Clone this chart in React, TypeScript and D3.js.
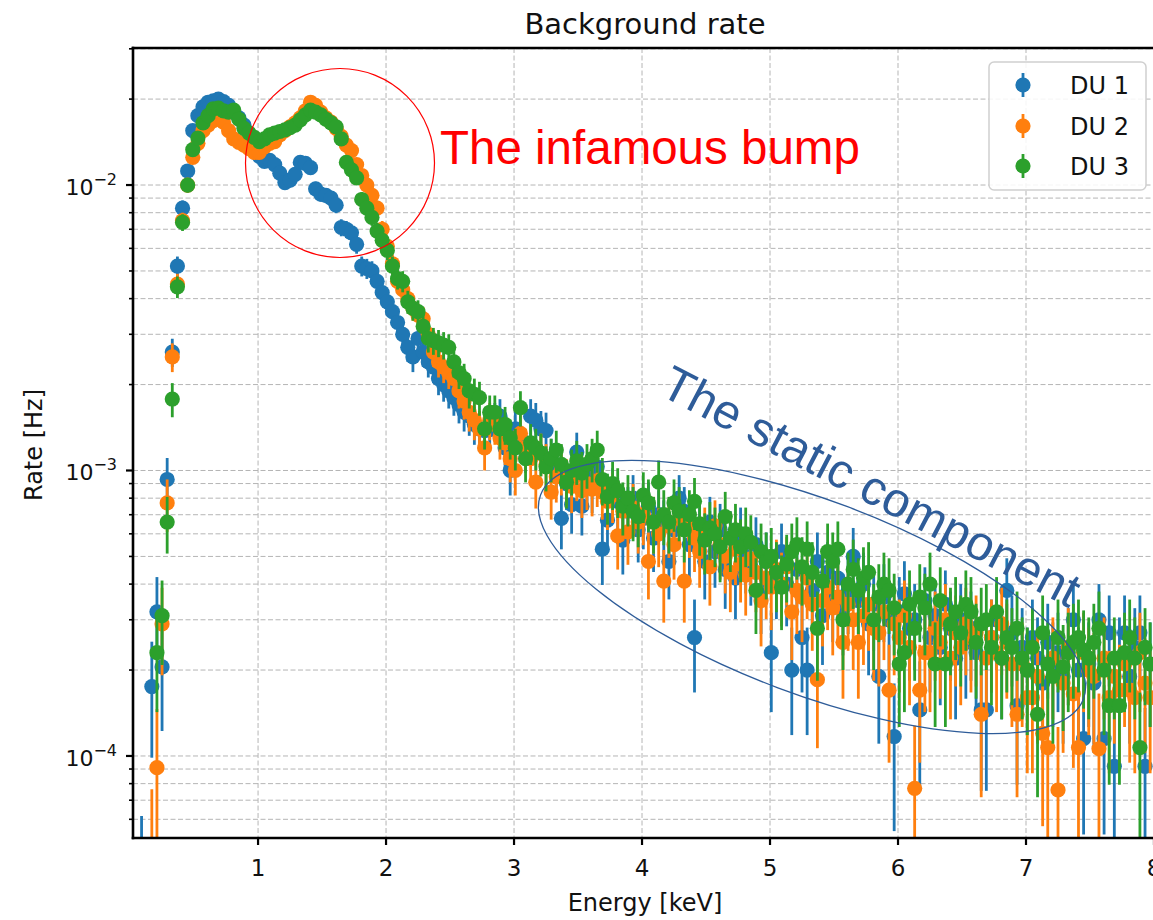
import React from 'react';
import * as d3 from 'd3';

const TITLE = 'Background rate';
const X_LABEL = 'Energy [keV]';
const Y_LABEL = 'Rate [Hz]';
const SERIES_NAMES = ['DU 1', 'DU 2', 'DU 3'];
const SERIES_COLORS = ['#1f77b4', '#ff7f0e', '#2ca02c'];
const X_TICKS = [1, 2, 3, 4, 5, 6, 7, 8];
const Y_MAJOR_TICKS = [1e-4, 1e-3, 1e-2];
const Y_TICK_EXPONENTS = ['\u22124', '\u22123', '\u22122'];
const BUMP_NOTE = 'The infamous bump';
const STATIC_NOTE = 'The static component';

// histogram bins: first bin centre and channel width (keV)
const FIRST_BIN_KEV = 0.09;
const BIN_WIDTH_KEV = 0.04;
// exposure used for the Poisson uncertainty of each rate
const EXPOSURE_S = 30000;

// rates [Hz], one row = 10 bins (0.4 keV)
const DU1_RATE = [
  3e-5, 5e-6, 1.75e-4, 3.2e-4, 2.05e-4, 9.3e-4, 2.6e-3, 5.2e-3, 8.3e-3, 1.12e-2,
  1.55e-2, 1.75e-2, 1.88e-2, 1.95e-2, 1.97e-2, 2.0e-2, 1.96e-2, 1.9e-2, 1.8e-2, 1.72e-2,
  1.62e-2, 1.5e-2, 1.36e-2, 1.26e-2, 1.21e-2, 1.22e-2, 1.18e-2, 1.1e-2, 1.02e-2, 1.04e-2,
  1.09e-2, 1.2e-2, 1.19e-2, 1.15e-2, 9.7e-3, 9.3e-3, 9.2e-3, 9.0e-3, 8.5e-3, 7.1e-3,
  7.0e-3, 6.8e-3, 6.2e-3, 5.2e-3, 5.1e-3, 5.0e-3, 4.6e-3, 4.2e-3, 3.9e-3, 3.6e-3,
  3.3e-3, 3.0e-3, 2.7e-3, 2.5e-3, 2.9e-3, 2.6e-3, 2.4e-3, 2.3e-3, 2.1e-3, 2.0e-3,
  1.9e-3, 1.8e-3, 1.7e-3, 1.6e-3, 1.55e-3, 1.45e-3, 1.4e-3, 1.38e-3, 1.39e-3, 1.5e-3,
  1.55e-3, 1.2e-3, 1.0e-3, 1.4e-3, 1.3e-3, 1.18e-3, 1.55e-3, 1.5e-3, 1.4e-3, 1.38e-3,
  1.1e-3, 1.0e-3, 6.8e-4, 9.0e-4, 7.6e-4, 1.16e-3, 7.5e-4, 9.5e-4, 8.8e-4, 1.03e-3,
  5.3e-4, 6.7e-4, 8.5e-4, 7.8e-4, 5.7e-4, 7.2e-4, 8.0e-4, 6.2e-4, 6.8e-4, 7.5e-4,
  5.8e-4, 7.0e-4, 6.4e-4, 4.8e-4, 6.2e-4, 8.0e-4, 7.2e-4, 5.5e-4, 2.6e-4, 6.0e-4,
  4.8e-4, 6.6e-4, 5.2e-4, 6.2e-4, 4.5e-4, 5.8e-4, 4.2e-4, 6.0e-4, 5.0e-4, 4.6e-4,
  5.5e-4, 3.8e-4, 4.8e-4, 2.3e-4, 4.2e-4, 5.2e-4, 4.0e-4, 2.0e-4, 4.5e-4, 2.6e-4,
  2.0e-4, 3.8e-4, 4.8e-4, 3.1e-4, 4.4e-4, 3.6e-4, 4.2e-4, 3.3e-4, 3.8e-4, 5.0e-4,
  3.5e-4, 4.0e-4, 2.9e-4, 3.4e-4, 1.9e-4, 3.6e-4, 3.0e-4, 1.17e-4, 3.2e-4, 3.7e-4,
  2.8e-4, 3.0e-4, 1.45e-4, 3.5e-4, 2.6e-4, 3.1e-4, 2.4e-4, 3.4e-4, 2.8e-4, 2.2e-4,
  3.0e-4, 2.5e-4, 2.8e-4, 2.3e-4, 1.45e-4, 1.45e-4, 2.6e-4, 3.0e-4, 2.2e-4, 3.8e-4,
  2.7e-4, 1.5e-4, 2.4e-4, 2.0e-4, 2.6e-4, 2.2e-4, 1.8e-4, 2.5e-4, 2.1e-4, 2.3e-4,
  1.9e-4, 2.4e-4, 3.0e-4, 2.0e-4, 1.15e-4, 2.1e-4, 1.8e-4, 3.0e-4, 1.15e-4, 2.7e-4,
  9.2e-5, 2.2e-4, 2.7e-4, 1.9e-4, 2.4e-4, 2.7e-4, 9.2e-5, 2.1e-4,
];

const DU2_RATE = [
  3e-6, 5e-6, 4e-5, 9.1e-5, 2.9e-4, 7.7e-4, 2.5e-3, 4.5e-3, 7.5e-3, 1.0e-2,
  1.25e-2, 1.4e-2, 1.55e-2, 1.62e-2, 1.68e-2, 1.7e-2, 1.66e-2, 1.55e-2, 1.45e-2, 1.41e-2,
  1.38e-2, 1.34e-2, 1.3e-2, 1.3e-2, 1.36e-2, 1.4e-2, 1.42e-2, 1.5e-2, 1.55e-2, 1.6e-2,
  1.65e-2, 1.72e-2, 1.82e-2, 1.95e-2, 1.9e-2, 1.8e-2, 1.72e-2, 1.66e-2, 1.58e-2, 1.48e-2,
  1.38e-2, 1.32e-2, 1.18e-2, 1.08e-2, 1.0e-2, 9.2e-3, 8.3e-3, 7.0e-3, 6.1e-3, 5.3e-3,
  4.6e-3, 4.3e-3, 4.0e-3, 3.7e-3, 3.5e-3, 3.4e-3, 3.0e-3, 2.6e-3, 2.4e-3, 2.3e-3,
  2.2e-3, 2.1e-3, 1.9e-3, 1.75e-3, 1.6e-3, 1.5e-3, 1.4e-3, 1.2e-3, 1.5e-3, 1.45e-3,
  1.3e-3, 1.25e-3, 1.1e-3, 1.0e-3, 1.35e-3, 1.2e-3, 1.1e-3, 9.1e-4, 1.15e-3, 1.05e-3,
  8.4e-4, 9.5e-4, 1.0e-3, 9.2e-4, 8.8e-4, 9.6e-4, 8.5e-4, 9.0e-4, 8.6e-4, 9.2e-4,
  8.4e-4, 7.8e-4, 8.2e-4, 5.9e-4, 7.2e-4, 6.1e-4, 7.4e-4, 6.6e-4, 7.0e-4, 4.8e-4,
  6.6e-4, 6.0e-4, 4.1e-4, 6.4e-4, 5.5e-4, 6.8e-4, 4.1e-4, 6.4e-4, 5.8e-4, 5.2e-4,
  6.0e-4, 4.6e-4, 6.4e-4, 5.5e-4, 5.0e-4, 4.4e-4, 5.3e-4, 4.7e-4, 4.3e-4, 4.9e-4,
  4.4e-4, 3.5e-4, 4.2e-4, 3.9e-4, 4.5e-4, 4.0e-4, 4.6e-4, 3.2e-4, 3.8e-4, 3.6e-4,
  4.2e-4, 3.4e-4, 1.85e-4, 3.5e-4, 3.9e-4, 3.3e-4, 3.6e-4, 2.5e-4, 3.4e-4, 3.0e-4,
  2.5e-4, 3.1e-4, 3.4e-4, 2.8e-4, 2.7e-4, 3.2e-4, 1.7e-4, 2.9e-4, 2.6e-4, 3.1e-4,
  2.4e-4, 7.7e-5, 1.7e-4, 2.3e-4, 2.3e-4, 2.8e-4, 2.5e-4, 3.0e-4, 2.2e-4, 2.7e-4,
  2.4e-4, 2.9e-4, 2.6e-4, 2.7e-4, 1.4e-4, 2.2e-4, 2.6e-4, 2.3e-4, 2.9e-4, 2.5e-4,
  2.1e-4, 1.4e-4, 2.1e-4, 1.6e-4, 1.6e-4, 1.9e-4, 1.2e-4, 1.07e-4, 2.2e-4, 7.6e-5,
  1.8e-4, 2.4e-4, 1.65e-4, 1.07e-4, 2.3e-4, 2.0e-4, 1.9e-4, 1.06e-4, 2.2e-4, 1.6e-4,
  1.9e-4, 1.7e-4, 2.1e-4, 1.7e-4, 1.6e-4, 2.3e-4, 1.8e-4, 1.6e-4,
];

const DU3_RATE = [
  3e-6, 5e-6, 2e-5, 2.3e-4, 3.1e-4, 6.6e-4, 1.78e-3, 4.4e-3, 7.4e-3, 1.0e-2,
  1.33e-2, 1.46e-2, 1.65e-2, 1.75e-2, 1.85e-2, 1.86e-2, 1.82e-2, 1.8e-2, 1.83e-2, 1.7e-2,
  1.58e-2, 1.52e-2, 1.47e-2, 1.42e-2, 1.45e-2, 1.5e-2, 1.52e-2, 1.54e-2, 1.56e-2, 1.59e-2,
  1.62e-2, 1.69e-2, 1.76e-2, 1.83e-2, 1.8e-2, 1.76e-2, 1.7e-2, 1.65e-2, 1.6e-2, 1.45e-2,
  1.2e-2, 1.13e-2, 1.06e-2, 8.9e-3, 8.3e-3, 7.7e-3, 6.9e-3, 6.4e-3, 5.9e-3, 5.2e-3,
  4.7e-3, 4.6e-3, 3.9e-3, 3.7e-3, 3.6e-3, 3.2e-3, 2.9e-3, 2.85e-3, 2.8e-3, 2.75e-3,
  2.7e-3, 2.4e-3, 2.2e-3, 2.1e-3, 1.9e-3, 1.85e-3, 1.8e-3, 1.4e-3, 1.6e-3, 1.6e-3,
  1.4e-3, 1.45e-3, 1.3e-3, 1.2e-3, 1.66e-3, 1.1e-3, 1.25e-3, 1.2e-3, 1.15e-3, 1.03e-3,
  1.1e-3, 1.18e-3, 1.05e-3, 9.1e-4, 1.0e-3, 1.08e-3, 9.8e-4, 1.05e-3, 1.1e-3, 1.18e-3,
  9.3e-4, 8.1e-4, 9.0e-4, 8.5e-4, 7.5e-4, 8.0e-4, 7.2e-4, 6.9e-4, 8.2e-4, 7.7e-4,
  6.6e-4, 9.1e-4, 7.0e-4, 6.6e-4, 7.7e-4, 7.2e-4, 6.2e-4, 7.0e-4, 7.8e-4, 6.5e-4,
  5.7e-4, 6.3e-4, 6.0e-4, 5.4e-4, 6.9e-4, 5.8e-4, 6.2e-4, 5.4e-4, 6.0e-4, 5.6e-4,
  3.8e-4, 5.2e-4, 4.8e-4, 5.0e-4, 4.4e-4, 3.9e-4, 4.7e-4, 5.2e-4, 5.5e-4, 4.6e-4,
  5.3e-4, 4.4e-4, 2.8e-4, 4.1e-4, 5.2e-4, 4.8e-4, 5.3e-4, 3.0e-4, 4.0e-4, 4.5e-4,
  3.8e-4, 4.2e-4, 4.4e-4, 3.0e-4, 3.6e-4, 4.0e-4, 3.8e-4, 3.3e-4, 2.1e-4, 2.3e-4,
  3.4e-4, 2.8e-4, 3.6e-4, 3.3e-4, 4.0e-4, 2.1e-4, 3.5e-4, 2.1e-4, 2.9e-4, 3.2e-4,
  2.7e-4, 3.4e-4, 3.2e-4, 2.5e-4, 2.9e-4, 3.0e-4, 2.4e-4, 3.2e-4, 2.2e-4, 2.6e-4,
  2.4e-4, 2.8e-4, 2.2e-4, 2.0e-4, 2.4e-4, 1.4e-4, 2.7e-4, 2.1e-4, 1.9e-4, 2.6e-4,
  2.05e-4, 2.3e-4, 2.5e-4, 2.6e-4, 2.35e-4, 2.2e-4, 2.5e-4, 2.8e-4, 2.0e-4, 1.5e-4,
  2.2e-4, 1.5e-4, 2.3e-4, 2.6e-4, 2.2e-4, 1.07e-4, 2.4e-4, 2.1e-4,
];

const SERIES_RATES = [DU1_RATE, DU2_RATE, DU3_RATE];

const MPL_FONT = "'DejaVu Sans', sans-serif";
const NOTE_FONT = "'Liberation Sans', Arial, sans-serif";

export default function App() {
  const W = 1153;
  const H = 920;
  const x = d3.scaleLinear().domain([0.023, 8.0]).range([133, 1154]);
  const y = d3.scaleLog().domain([5.16e-5, 0.0302]).range([838, 48]);
  const [x0, x1] = [x.range()[0], 1160];
  const [yb, yt] = y.range();

  const yMinor = y.ticks().filter((t) => {
    const l = Math.log10(t);
    return Math.abs(l - Math.round(l)) > 1e-6;
  });

  const points = SERIES_RATES.map((rates) =>
    rates.map((r, i) => {
      const e = FIRST_BIN_KEV + BIN_WIDTH_KEV * i;
      const s = Math.sqrt(r / EXPOSURE_S);
      const lo = r - s > 0 ? r - s : 1e-7;
      return { e, r, lo, hi: r + s };
    })
  );

  const legendY = [85, 126, 166];

  return (
    <div style={{ position: 'absolute', left: 0, top: 0 }}>
      <svg width={W} height={H} style={{ display: 'block', background: '#fff' }}>
        <defs>
          <clipPath id="plotclip">
            <rect x={x0} y={yt} width={x1 - x0} height={yb - yt} />
          </clipPath>
        </defs>
        <rect x={0} y={0} width={W} height={H} fill="#fff" />

        {/* grid */}
        <g stroke="#b5b5b5" strokeWidth={1} strokeDasharray="5,2.5" fill="none">
          {yMinor.map((t) => (
            <line key={'gm' + t} x1={x0} x2={x1} y1={y(t)} y2={y(t)} />
          ))}
          {Y_MAJOR_TICKS.map((t) => (
            <line key={'gM' + t} x1={x0} x2={x1} y1={y(t)} y2={y(t)} />
          ))}
          {X_TICKS.map((t) => (
            <line key={'gx' + t} x1={x(t)} x2={x(t)} y1={yt} y2={yb} />
          ))}
        </g>

        {/* data */}
        <g clipPath="url(#plotclip)">
          {points.map((pts, si) => (
            <g key={'s' + si}>
              <g stroke={SERIES_COLORS[si]} strokeWidth={2.8}>
                {pts.map((p, i) => (
                  <line key={i} x1={x(p.e)} x2={x(p.e)} y1={y(p.lo)} y2={y(p.hi)} />
                ))}
              </g>
              <g fill={SERIES_COLORS[si]}>
                {pts.map((p, i) => (
                  <circle key={i} cx={x(p.e)} cy={y(p.r)} r={7.6} />
                ))}
              </g>
            </g>
          ))}
        </g>

        {/* spines */}
        <g stroke="#000" strokeWidth={2.6} fill="none">
          <line x1={x0} x2={x0} y1={yt - 1.3} y2={yb + 1.3} />
          <line x1={x0 - 1.3} x2={x1} y1={yt} y2={yt} />
          <line x1={x0 - 1.3} x2={x1} y1={yb} y2={yb} />
        </g>

        {/* ticks */}
        <g stroke="#000">
          {Y_MAJOR_TICKS.map((t) => (
            <line key={'yt' + t} x1={x0 - 7} x2={x0} y1={y(t)} y2={y(t)} strokeWidth={2.2} />
          ))}
          {yMinor.map((t) => (
            <line key={'ym' + t} x1={x0 - 4} x2={x0} y1={y(t)} y2={y(t)} strokeWidth={1.6} />
          ))}
          {X_TICKS.map((t) => (
            <line key={'xt' + t} x1={x(t)} x2={x(t)} y1={yb} y2={yb + 7} strokeWidth={2.2} />
          ))}
        </g>

        <g fontFamily={MPL_FONT} fill="#111">
          {Y_MAJOR_TICKS.map((t, i) => (
            <text key={'yl' + t} x={117} y={y(t) + 10} textAnchor="end" fontSize={22}>
              10
              <tspan dy={-10} fontSize={16}>
                {Y_TICK_EXPONENTS[i]}
              </tspan>
            </text>
          ))}
          {X_TICKS.map((t) => (
            <text key={'xl' + t} x={x(t)} y={876} textAnchor="middle" fontSize={23}>
              {t}
            </text>
          ))}
          <text x={645} y={911} textAnchor="middle" fontSize={24}>
            {X_LABEL}
          </text>
          <text transform="translate(42,445) rotate(-90)" textAnchor="middle" fontSize={24}>
            {Y_LABEL}
          </text>
          <text x={645} y={34} textAnchor="middle" fontSize={29}>
            {TITLE}
          </text>
        </g>

        {/* legend */}
        <g>
          <rect x={989} y={62} width={157} height={128} rx={5} fill="#fff" fillOpacity={0.85} stroke="#d0d0d0" strokeWidth={1.5} />
          {SERIES_NAMES.map((n, i) => (
            <g key={n}>
              <line x1={1023} x2={1023} y1={legendY[i] - 12} y2={legendY[i] + 12} stroke={SERIES_COLORS[i]} strokeWidth={2.8} />
              <circle cx={1023} cy={legendY[i]} r={7.6} fill={SERIES_COLORS[i]} />
              <text x={1070} y={legendY[i] + 9} fontFamily={MPL_FONT} fontSize={24} fill="#111">
                {n}
              </text>
            </g>
          ))}
        </g>

        {/* annotations */}
        <circle cx={340} cy={163} r={94.5} fill="none" stroke="#ff0000" strokeWidth={1.2} />
        <text x={440} y={164} fontFamily={NOTE_FONT} fontSize={47.5} fill="#ff0000">
          {BUMP_NOTE}
        </text>
        <ellipse cx={812} cy={597} rx={290} ry={97} transform="rotate(20.6 812 597)" fill="none" stroke="#2e5c99" strokeWidth={1.3} />
        <text transform="translate(658,394) rotate(27.5)" fontFamily={NOTE_FONT} fontSize={48.5} fill="#2e5c99">
          {STATIC_NOTE}
        </text>
      </svg>
    </div>
  );
}
